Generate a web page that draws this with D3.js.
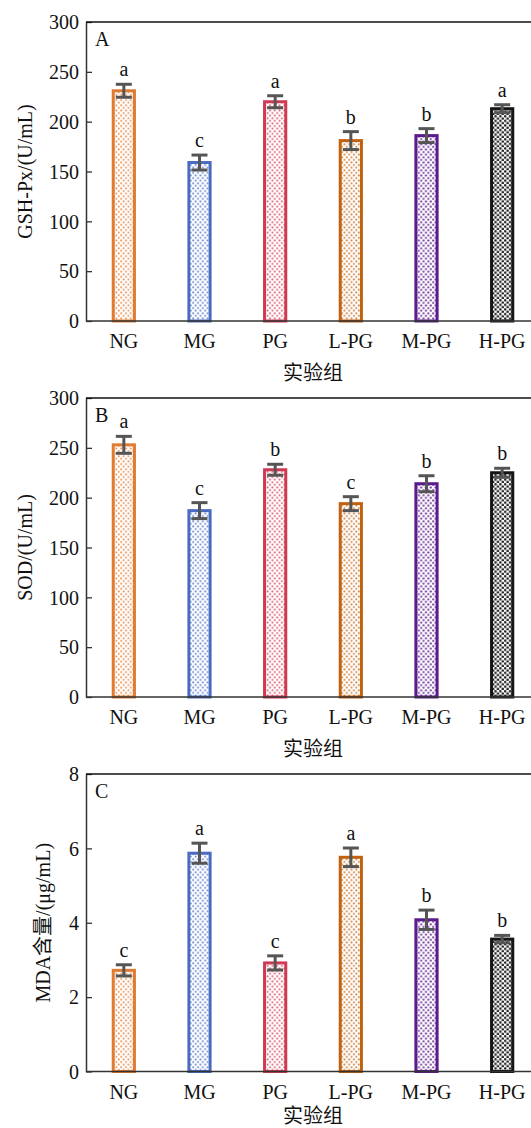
<!DOCTYPE html>
<html>
<head>
<meta charset="utf-8">
<script src="https://cdn.jsdelivr.net/npm/d3@7"></script>
<style>
  body { margin: 0; background: #fff; }
  svg { display: block; font-family: 'Liberation Serif', 'Times New Roman', 'Noto Sans CJK SC', serif; }
  .tick-label { font-size: 20px; fill: #111; }
  .axis-title { font-size: 20px; fill: #111; }
</style>
</head>
<body>
<svg id="chart"></svg>
<script>
const groups = ['NG', 'MG', 'PG', 'L-PG', 'M-PG', 'H-PG'];
const barColors = ['#e27b32', '#4a6cc0', '#cf3a52', '#c0620f', '#5b1b8c', '#151515'];

const gshValues = [231, 159, 220, 181, 186, 213];
const gshErrors = [6.5, 7.5, 6, 9, 7, 4];
const gshLetters = ['a', 'c', 'a', 'b', 'b', 'a'];

const sodValues = [253, 187, 228, 194, 214, 225];
const sodErrors = [8.5, 8, 5.5, 7, 8, 4.5];
const sodLetters = ['a', 'c', 'b', 'c', 'b', 'b'];

const mdaValues = [2.72, 5.87, 2.92, 5.76, 4.08, 3.56];
const mdaErrors = [0.15, 0.27, 0.19, 0.25, 0.26, 0.1];
const mdaLetters = ['c', 'a', 'c', 'a', 'b', 'b'];

const enzymeTicks = [0, 50, 100, 150, 200, 250, 300];
const mdaTicks = [0, 2, 4, 6, 8];

const width = 531;
const height = 1128;
const left = 86;

const svg = d3.select('#chart')
  .attr('width', width)
  .attr('height', height);

// dotted fills, one per group colour
const defs = svg.append('defs');
barColors.forEach((c, i) => {
  const big = i === 5;
  const p = defs.append('pattern')
    .attr('id', `dots-${i}`)
    .attr('patternUnits', 'userSpaceOnUse')
    .attr('width', 4.8)
    .attr('height', big ? 4.6 : 5.2)
    .attr('x', 0)
    .attr('y', 0);
  p.append('rect')
    .attr('width', 4.8)
    .attr('height', 5.2)
    .attr('fill', '#fff');
  [[1.2, 1.3], [3.6, big ? 3.6 : 3.9]].forEach(([cx, cy]) => {
    p.append('circle')
      .attr('cx', cx)
      .attr('cy', cy)
      .attr('r', big ? 1.3 : (i === 4 ? 1.15 : 1.0))
      .attr('fill', c)
      .attr('fill-opacity', big ? 0.95 : 0.8);
  });
});

const x = d3.scaleBand()
  .domain(groups)
  .range([left, 540])
  .paddingInner(0.68)
  .paddingOuter(0.34);

const panels = [
  { top: 22, bottom: 321, max: 300, ticks: enzymeTicks, values: gshValues, errors: gshErrors,
    letters: gshLetters, tag: 'A', title: 'GSH-Px/(U/mL)', titleX: 32, xTitleGap: 59 },
  { top: 398, bottom: 697, max: 300, ticks: enzymeTicks, values: sodValues, errors: sodErrors,
    letters: sodLetters, tag: 'B', title: 'SOD/(U/mL)', titleX: 32, xTitleGap: 59 },
  { top: 774, bottom: 1071.5, max: 8, ticks: mdaTicks, values: mdaValues, errors: mdaErrors,
    letters: mdaLetters, tag: 'C', title: 'MDA含量/(μg/mL)', titleX: 50, xTitleGap: 51 },
];

panels.forEach(panel => {
  const y = d3.scaleLinear()
    .domain([0, panel.max])
    .range([panel.bottom, panel.top]);

  const g = svg.append('g');
  const data = groups.map((grp, i) => ({
    grp, value: panel.values[i], err: panel.errors[i], letter: panel.letters[i], color: barColors[i], idx: i,
  }));

  // Bars
  g.selectAll('.bar')
    .data(data)
    .enter().append('rect')
      .attr('class', 'bar')
      .attr('x', d => x(d.grp) + 1.5)
      .attr('y', d => y(d.value))
      .attr('width', x.bandwidth() - 3)
      .attr('height', d => y(0) - y(d.value))
      .attr('fill', d => `url(#dots-${d.idx})`)
      .attr('stroke', d => d.color)
      .attr('stroke-width', 3);

  // Error bars
  const eb = g.selectAll('.err')
    .data(data)
    .enter().append('g')
      .attr('class', 'err')
      .attr('stroke', '#555')
      .attr('stroke-width', 3);
  eb.append('line')
    .attr('x1', d => x(d.grp) + x.bandwidth() / 2)
    .attr('x2', d => x(d.grp) + x.bandwidth() / 2)
    .attr('y1', d => y(d.value + d.err))
    .attr('y2', d => y(d.value - d.err));
  eb.append('line')
    .attr('x1', d => x(d.grp) + x.bandwidth() / 2 - 8)
    .attr('x2', d => x(d.grp) + x.bandwidth() / 2 + 8)
    .attr('y1', d => y(d.value + d.err))
    .attr('y2', d => y(d.value + d.err));
  eb.append('line')
    .attr('x1', d => x(d.grp) + x.bandwidth() / 2 - 8)
    .attr('x2', d => x(d.grp) + x.bandwidth() / 2 + 8)
    .attr('y1', d => y(d.value - d.err))
    .attr('y2', d => y(d.value - d.err));

  // Significance letters
  g.selectAll('.sig')
    .data(data)
    .enter().append('text')
      .attr('class', 'tick-label')
      .attr('x', d => x(d.grp) + x.bandwidth() / 2)
      .attr('y', d => y(d.value + d.err) - 8)
      .attr('text-anchor', 'middle')
      .text(d => d.letter);

  // Y axis
  const yAxis = d3.axisLeft(y)
    .tickValues(panel.ticks)
    .tickSizeInner(-6)
    .tickSizeOuter(0)
    .tickPadding(7);
  const ga = g.append('g')
    .attr('transform', `translate(${left}, 0)`)
    .call(yAxis);
  ga.select('.domain')
    .attr('stroke', '#333')
    .attr('stroke-width', 1.5);
  ga.selectAll('.tick line')
    .attr('stroke', '#333')
    .attr('stroke-width', 1.3);
  ga.selectAll('.tick text')
    .attr('class', 'tick-label')
    .attr('dy', '0.34em');
  ga.attr('font-size', null).attr('font-family', null);

  // X axis: baseline + top frame
  g.append('line')
    .attr('x1', left)
    .attr('x2', width)
    .attr('y1', y(0))
    .attr('y2', y(0))
    .attr('stroke', '#333')
    .attr('stroke-width', 1.5);
  g.append('line')
    .attr('x1', left)
    .attr('x2', width)
    .attr('y1', y(panel.max))
    .attr('y2', y(panel.max))
    .attr('stroke', '#111')
    .attr('stroke-width', 1.5);

  g.selectAll('.xlab')
    .data(groups)
    .enter().append('text')
      .attr('class', 'tick-label')
      .attr('x', d => x(d) + x.bandwidth() / 2)
      .attr('y', y(0) + 27)
      .attr('text-anchor', 'middle')
      .text(d => d);

  g.append('text')
    .attr('class', 'axis-title')
    .attr('x', 313)
    .attr('y', y(0) + panel.xTitleGap)
    .attr('text-anchor', 'middle')
    .text('实验组');

  g.append('text')
    .attr('class', 'axis-title')
    .attr('transform', `translate(${panel.titleX}, ${(panel.top + panel.bottom) / 2}) rotate(-90)`)
    .attr('text-anchor', 'middle')
    .text(panel.title);

  // Panel tag
  g.append('text')
    .attr('class', 'axis-title')
    .attr('x', 95)
    .attr('y', panel.top + 24)
    .text(panel.tag);
});
</script>
</body>
</html>
